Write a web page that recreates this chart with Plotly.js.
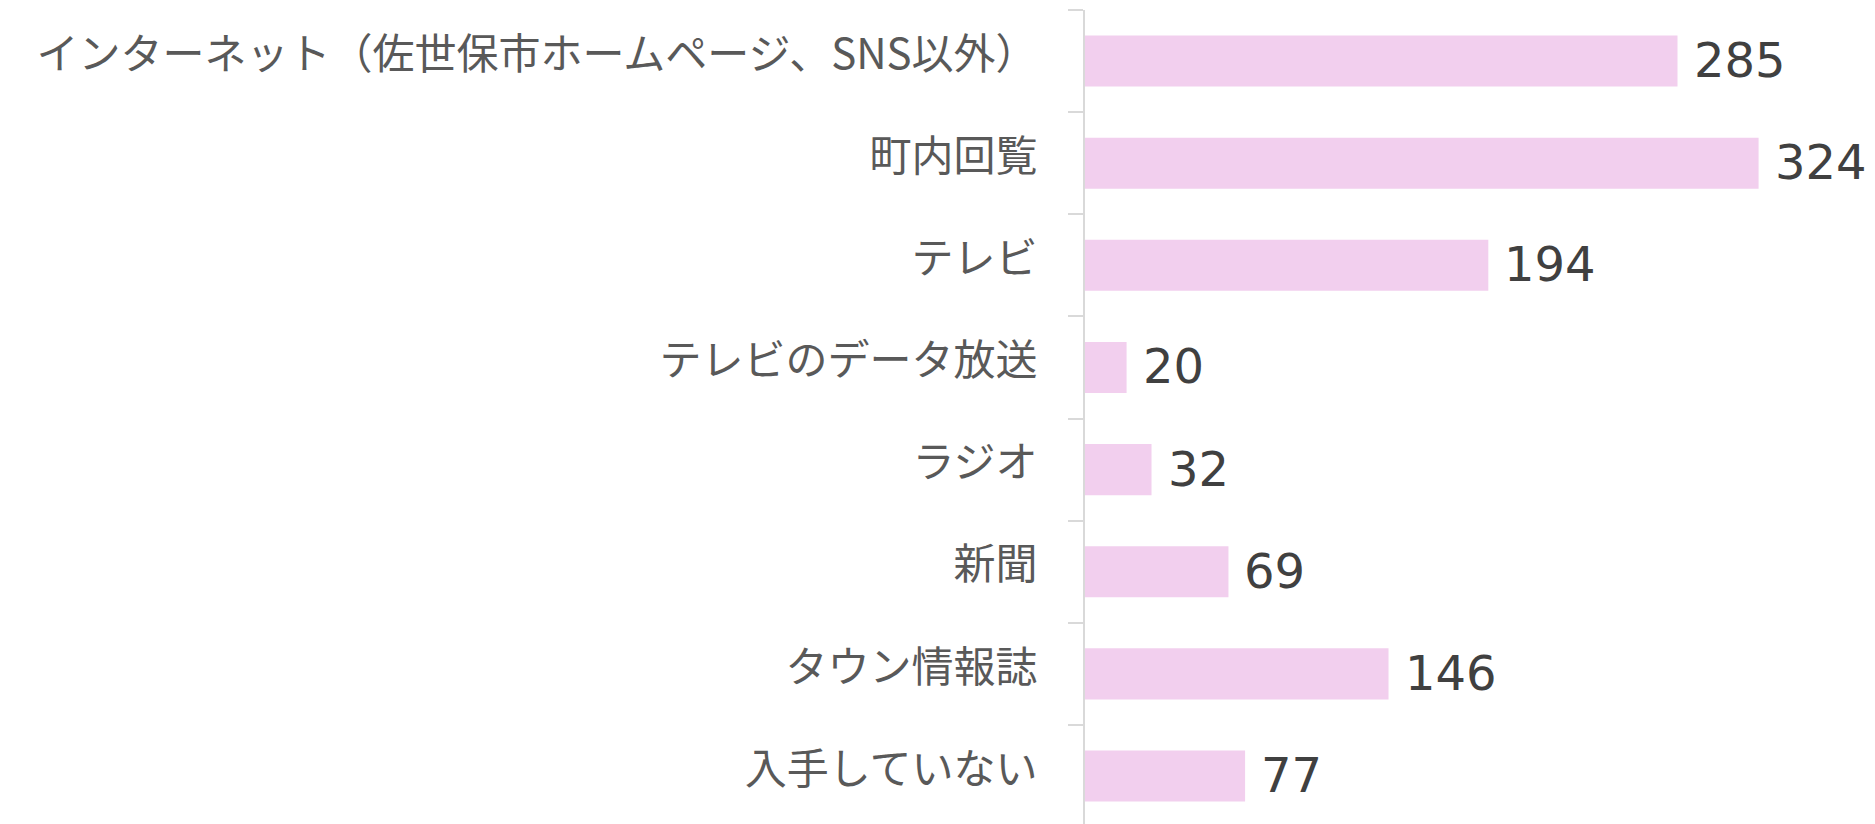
<!DOCTYPE html>
<html>
<head>
<meta charset="utf-8">
<script src="https://cdn.plot.ly/plotly-3.0.1.min.js"></script>
<style>
html,body{margin:0;padding:0;background:#fff;}
#chart{width:1875px;height:824px;}
</style>
</head>
<body>
<div id="chart"></div>
<script>
const categories = [
  "インターネット（佐世保市ホームページ、SNS以外）",
  "町内回覧",
  "テレビ",
  "テレビのデータ放送",
  "ラジオ",
  "新聞",
  "タウン情報誌",
  "入手していない"
];
const values = [285, 324, 194, 20, 32, 69, 146, 77];

const trace = {
  type: "bar",
  orientation: "h",
  x: values,
  y: categories,
  marker: {color: "#F2CFEE"},
  width: 0.5,
  hoverinfo: "x+y"
};

const annotations = values.map((v, i) => ({
  x: v, y: categories[i], xref: "x", yref: "y",
  text: String(v), showarrow: false,
  xanchor: "left", yanchor: "middle", xshift: 14, yshift: 1,
  font: {family: "DejaVu Sans, Verdana, sans-serif", size: 48, color: "#404040"}
}));

const layout = {
  width: 1875, height: 824,
  margin: {l: 1085, r: 0, t: 10, b: 0},
  paper_bgcolor: "#ffffff",
  plot_bgcolor: "#ffffff",
  showlegend: false,
  bargap: 0.5,
  xaxis: {
    range: [0, 380],
    showgrid: false, zeroline: false, showline: false,
    showticklabels: false, ticks: ""
  },
  yaxis: {
    type: "category",
    autorange: false,
    range: [7.47, -0.5],
    showgrid: false, zeroline: false,
    showline: true, linecolor: "#D9D9D9", linewidth: 2,
    ticks: "outside", tickson: "boundaries", ticklen: 15, tickwidth: 2, tickcolor: "#D9D9D9",
    ticklabelstandoff: 37,
    ticklabelshift: 7,
    tickfont: {family: "Noto Sans CJK JP, sans-serif", size: 42, color: "#595959"}
  },
  annotations: annotations
};

Plotly.newPlot("chart", [trace], layout, {displayModeBar: false, staticPlot: true});
</script>
</body>
</html>
